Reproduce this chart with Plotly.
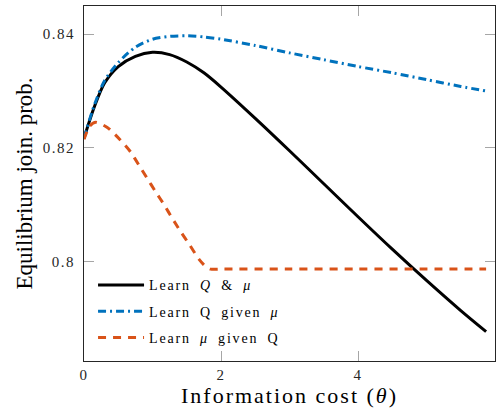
import plotly.graph_objects as go

theta_a = [0, 0.15, 0.3, 0.5, 0.75, 1.0, 1.25, 1.5, 1.75, 2.0, 2.5, 3.0, 3.5, 4.0, 4.5, 5.0, 5.5, 5.87]
learn_both = [0.8217, 0.8272, 0.8314, 0.8343, 0.8361, 0.8368, 0.8364, 0.8351, 0.8332, 0.8307, 0.8252, 0.8195, 0.8137, 0.8079, 0.8022, 0.7967, 0.7914, 0.7877]

theta_b = [0, 0.15, 0.3, 0.5, 0.75, 1.0, 1.25, 1.5, 1.75, 2.0, 2.5, 3.0, 3.5, 4.0, 4.5, 5.0, 5.5, 5.87]
learn_q = [0.8217, 0.8275, 0.8318, 0.8350, 0.8377, 0.8391, 0.8396, 0.8397, 0.8395, 0.8391, 0.8380, 0.8367, 0.8355, 0.8343, 0.8332, 0.8320, 0.8308, 0.8300]

theta_c = [0, 0.08, 0.17, 0.34, 0.53, 0.68, 0.8, 0.92, 1.045, 1.17, 1.29, 1.41, 1.545, 1.68, 1.78, 1.85, 2.0, 3.0, 4.0, 5.0, 5.87]
learn_mu = [0.8215, 0.8238, 0.8245, 0.8236, 0.8214, 0.8193, 0.8170, 0.8147, 0.8123, 0.8100, 0.8076, 0.8053, 0.8029, 0.8004, 0.7991, 0.7987, 0.7987, 0.7987, 0.7987, 0.7987, 0.7987]

x_ticks = [0, 2, 4, 6]
y_ticks = [0.80, 0.82, 0.84]
y_tick_labels = ["0.8", "0.82", "0.84"]
y_title = "Equilibrium join. prob."

FONT = "Liberation Serif"

fig = go.Figure()
fig.add_trace(go.Scatter(x=theta_a, y=learn_both, mode="lines", legendgroup="a",
                         line=dict(color="black", width=3, shape="spline", smoothing=0.8),
                         name="Learn <i>Q</i> &amp; <i>μ</i>"))
fig.add_trace(go.Scatter(x=theta_b, y=learn_q, mode="lines", legendgroup="b",
                         line=dict(color="#0072BD", width=3, shape="spline", smoothing=0.8, dash="8px,4px,2px,4px"),
                         name="Learn Q given <i>μ</i>"))
fig.add_trace(go.Scatter(x=theta_c, y=learn_mu, mode="lines", legendgroup="c",
                         line=dict(color="#D95319", width=3, shape="spline", smoothing=0.6, dash="8px,7px"),
                         name="Learn <i>μ</i> given Q"))

axis_common = dict(showline=True, linecolor="#262626", linewidth=1, mirror="ticks", ticks="inside", ticklen=10,
                   tickcolor="#a6a6a6", tickwidth=1, showgrid=False, zeroline=False, automargin=False,
                   tickfont=dict(family=FONT, size=15, color="#262626"))

fig.update_layout(
    width=498, height=411,
    margin=dict(l=84, r=3, t=6, b=50),
    plot_bgcolor="white", paper_bgcolor="white",
    font=dict(family=FONT, color="black"),
    showlegend=True,
    legend=dict(x=0.022, y=0.258, xanchor="left", yanchor="top", bgcolor="rgba(0,0,0,0)",
                font=dict(family=FONT, size=14, color="black"), tracegroupgap=5, itemwidth=46),
    xaxis=dict(range=[0, 6], tickvals=x_ticks, ticktext=[str(t) for t in x_ticks], ticklabelstandoff=0,
               title=dict(text="Information cost (<i>θ</i>)", font=dict(family=FONT, size=22), standoff=4),
               **axis_common),
    yaxis=dict(range=[0.78255, 0.84494], tickvals=y_ticks, ticktext=y_tick_labels, ticklabelstandoff=5,
               **axis_common),
    annotations=[dict(text=y_title, xref="paper", yref="paper", x=-0.1436, y=0.5, xanchor="center",
                      yanchor="middle", textangle=-90, showarrow=False,
                      font=dict(family=FONT, size=23, color="black"))],
)

css = ("body{margin:0 !important;}"
       ".legendtext{letter-spacing:1.8px;word-spacing:4px;}"
       ".legend .scrollbox{clip-path:none !important;}"
       ".xtitle{letter-spacing:2px;}"
       ".xtick text,.ytick text{letter-spacing:1.5px;}")
post = "document.head.insertAdjacentHTML('beforeend','<style>" + css + "</style>');document.body.style.margin='0';"
fig.write_html("out.html", post_script=post, config={"displayModeBar": False})
